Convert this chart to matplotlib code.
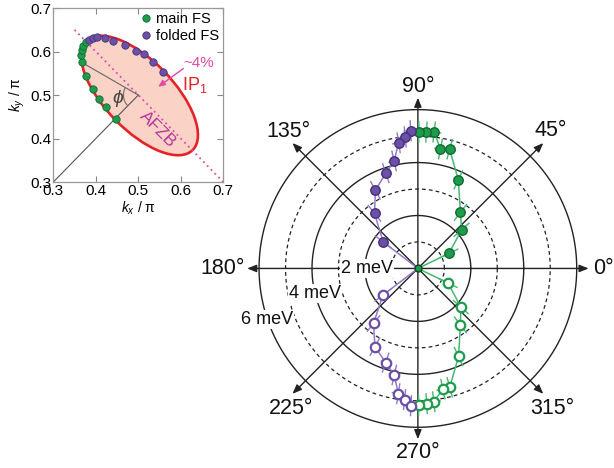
import matplotlib
matplotlib.use('Agg')
import matplotlib.pyplot as plt
import numpy as np
from matplotlib.patches import Ellipse, Arc

plt.rcParams['font.family'] = ['Liberation Sans', 'DejaVu Sans']
plt.rcParams['mathtext.fontset'] = 'custom'
plt.rcParams['mathtext.rm'] = 'Liberation Sans'
plt.rcParams['mathtext.it'] = 'Liberation Sans:italic'

# ---- gap anisotropy data (angle in degrees, gap in meV) ----
main_ang = [25.8, 41.5, 52.8, 65.5, 75.1, 79.3, 83.2, 86.4, 89.6]
main_gap = [1.30, 2.20, 2.66, 3.68, 4.66, 4.59, 5.19, 5.16, 5.16]
fold_ang = [93.0, 95.5, 98.7, 102.5, 108.6, 118.5, 128.2, 142.6]
fold_gap = [5.21, 4.99, 4.80, 4.16, 3.80, 3.36, 2.65, 1.65]
main_sym_ang = [334.2, 318.0, 307.0, 294.8, 285.0, 281.7, 276.8, 273.7, 270.3]
main_sym_gap = [1.27, 2.18, 2.67, 3.66, 4.65, 4.66, 5.07, 5.12, 5.16]
fold_sym_ang = [217.3, 231.1, 241.2, 251.1, 257.5, 261.1, 264.2, 267.1]
fold_sym_gap = [1.66, 2.67, 3.37, 3.76, 4.12, 4.79, 4.98, 5.19]
gap_err = 0.4      # meV
ang_err = 3.0      # deg

solid_rings = [2, 4, 6]
dashed_rings = [1, 3, 5]
axis_angles = [0, 45, 90, 135]
axis_len = [6.45, 6.7, 6.45, 6.7]
deg_labels = ['0°', '45°', '90°', '135°', '180°', '225°', '270°', '315°']
ring_labels = ['2 meV', '4 meV', '6 meV']

# ---- inset: Fermi surface points (kx/pi, ky/pi) ----
main_kx = [0.447, 0.424, 0.408, 0.394, 0.377, 0.367, 0.365, 0.367, 0.371, 0.377]
main_ky = [0.446, 0.472, 0.492, 0.513, 0.544, 0.575, 0.592, 0.604, 0.613, 0.621]
fold_kx = [0.385, 0.394, 0.404, 0.422, 0.441, 0.469, 0.494, 0.513, 0.534, 0.557]
fold_ky = [0.627, 0.631, 0.633, 0.632, 0.625, 0.615, 0.602, 0.594, 0.576, 0.553]
fs_center = (0.503, 0.499)
fs_major, fs_minor = 0.354, 0.16
afzb_x = [0.35, 0.70]
afzb_y = [0.65, 0.30]

GREEN = '#1e9b4b'
GREEN_DK = '#0f6b32'
GREEN_LT = '#47b874'
PURPLE = '#6c4fa6'
PURPLE_DK = '#463079'
PURPLE_LT = '#927acb'
RED = '#e52227'
PINK = '#df4aa6'

fig = plt.figure(figsize=(6.14, 4.68), dpi=100)

# =============== polar panel ===============
ax = fig.add_axes([0.3831, 0.0361, 0.5950, 0.7806], projection='polar')
ax.set_rlim(0, 6.9)
ax.grid(False)
ax.set_xticks([])
ax.set_yticks([])
ax.spines['polar'].set_visible(False)

th = np.linspace(0, 2 * np.pi, 400)
for r in solid_rings:
    ax.plot(th, np.full_like(th, r), color='#222222', lw=1.0, zorder=1)
for r in dashed_rings:
    ax.plot(th, np.full_like(th, r), color='#222222', lw=0.9,
            ls=(0, (3, 2.5)), zorder=1)

for a, L in zip(axis_angles, axis_len):
    t = np.deg2rad(a)
    ax.annotate('', xy=(t, L), xytext=(t + np.pi, L), annotation_clip=False,
                arrowprops=dict(arrowstyle='<|-|>,head_length=0.55,head_width=0.22',
                                color='#222222', lw=1.0, shrinkA=0, shrinkB=0),
                zorder=2)

# degree labels
lab_pos = [(0, 6.62, 'left', 'center'), (46.0, 7.23, 'center', 'center'),
           (90, 6.68, 'center', 'baseline'), (133.4, 7.11, 'center', 'center'),
           (180, 6.55, 'right', 'center'), (227.8, 7.15, 'center', 'center'),
           (270, 6.55, 'center', 'top'), (313.7, 7.33, 'center', 'center')]
for txt, (a, r, ha, va) in zip(deg_labels, lab_pos):
    ax.text(np.deg2rad(a), r, txt, ha=ha, va=va, fontsize=15.5, color='#111111')

ring_pos = [(180, 1.93), (193.6, 3.99), (198.6, 6.02)]
for txt, (a, r) in zip(ring_labels, ring_pos):
    ax.text(np.deg2rad(a), r, txt, ha='center', va='center', fontsize=13,
            color='#111111', zorder=3,
            bbox=dict(boxstyle='square,pad=0.05', fc='white', ec='none'))


def polar_series(ang, gap, col, col_dk, col_lt, filled, origin_first):
    t = np.deg2rad(np.array(ang))
    g = np.array(gap)
    # line runs in/out of the node at the origin
    if origin_first:
        lt, lg = np.r_[t[0], t], np.r_[0, g]
    else:
        lt, lg = np.r_[t, t[-1]], np.r_[g, 0]
    ax.plot(lt, lg, color=col_lt, lw=1.1, zorder=4)
    ax.errorbar(t, g, xerr=np.deg2rad(ang_err), yerr=gap_err, fmt='none',
                ecolor=col_lt, elinewidth=1.0, capsize=0, zorder=4)
    ax.plot(t, g, 'o', ms=6.8, mfc=col if filled else 'white',
            mec=col_dk if filled else col, mew=1.0 if filled else 1.6, zorder=5)


polar_series(main_ang, main_gap, GREEN, GREEN_DK, GREEN_LT, True, True)
polar_series(fold_ang, fold_gap, PURPLE, PURPLE_DK, PURPLE_LT, True, False)
polar_series(main_sym_ang, main_sym_gap, GREEN, GREEN_DK, GREEN_LT, False, True)
polar_series(fold_sym_ang, fold_sym_gap, PURPLE, PURPLE_DK, PURPLE_LT, False, True)
ax.plot([0], [0], 'o', ms=5, mfc=GREEN, mec='#114422', mew=1.0, zorder=6)

# =============== inset: Fermi surface ===============
ins = fig.add_axes([0.0868, 0.611, 0.2769, 0.3718])
ins.set_xlim(0.3, 0.7)
ins.set_ylim(0.3, 0.7)
ins.set_xticks([0.3, 0.4, 0.5, 0.6, 0.7])
ins.set_yticks([0.3, 0.4, 0.5, 0.6, 0.7])
ins.set_xticklabels(['0.3', '0.4', '0.5', '0.6', '0.7'])
ins.set_yticklabels(['0.3', '0.4', '0.5', '0.6', '0.7'])
ins.tick_params(direction='in', length=4, width=0.8, color='#888888',
                top=True, right=True, labelsize=11, pad=1.5)
for s in ins.spines.values():
    s.set_color('#999999')
    s.set_linewidth(0.9)
ins.set_xlabel('$k_x$ / π', fontsize=10, labelpad=1)
ins.set_ylabel('$k_y$ / π', fontsize=10, labelpad=2)

ins.add_patch(Ellipse(fs_center, fs_major, fs_minor, angle=-45,
                      fc='#fad2c6', ec=RED, lw=1.9, zorder=1))
ins.plot(afzb_x, afzb_y, color=PINK, lw=1.3, ls=(0, (1, 2)), zorder=2)

# phi construction
ins.plot([0.3, 0.5], [0.3, 0.5], color='#555555', lw=0.8, zorder=2)
ins.plot([0.5, main_kx[5]], [0.5, main_ky[5]], color='#666666', lw=0.8, zorder=2)
ins.add_patch(Arc((0.5, 0.5), 0.07, 0.07, theta1=150, theta2=225,
                  color='#777777', lw=0.9, zorder=2))
ins.text(0.452, 0.492, r'$\phi$', fontsize=14, color='#444444',
         ha='center', va='center')

ins.plot(main_kx, main_ky, 'o', ms=5.3, mfc=GREEN, mec=GREEN_DK, mew=0.6,
         zorder=4, label='main FS')
ins.plot(fold_kx, fold_ky, 'o', ms=5.3, mfc=PURPLE, mec=PURPLE_DK, mew=0.6,
         zorder=4, label='folded FS')
ins.legend(loc='upper right', frameon=False, fontsize=10.5, handletextpad=0.3,
           borderaxespad=0.2, labelspacing=0.15, handlelength=0.8,
           borderpad=0.1)

ins.text(0.545, 0.42, 'AFZB', rotation=-45, fontsize=12.5, color='#b8359c',
         ha='center', va='center')
ins.text(0.643, 0.573, '~4%', fontsize=11, color=PINK, ha='center', va='center')
ins.annotate('', xy=(0.547, 0.519), xytext=(0.606, 0.561),
             arrowprops=dict(arrowstyle='-|>,head_length=0.4,head_width=0.18',
                             color=PINK, lw=1.0, shrinkA=0, shrinkB=0))
ins.text(0.633, 0.523, 'IP$_1$', fontsize=13, color=RED, ha='center', va='center')

fig.savefig('out.png', dpi=100)
